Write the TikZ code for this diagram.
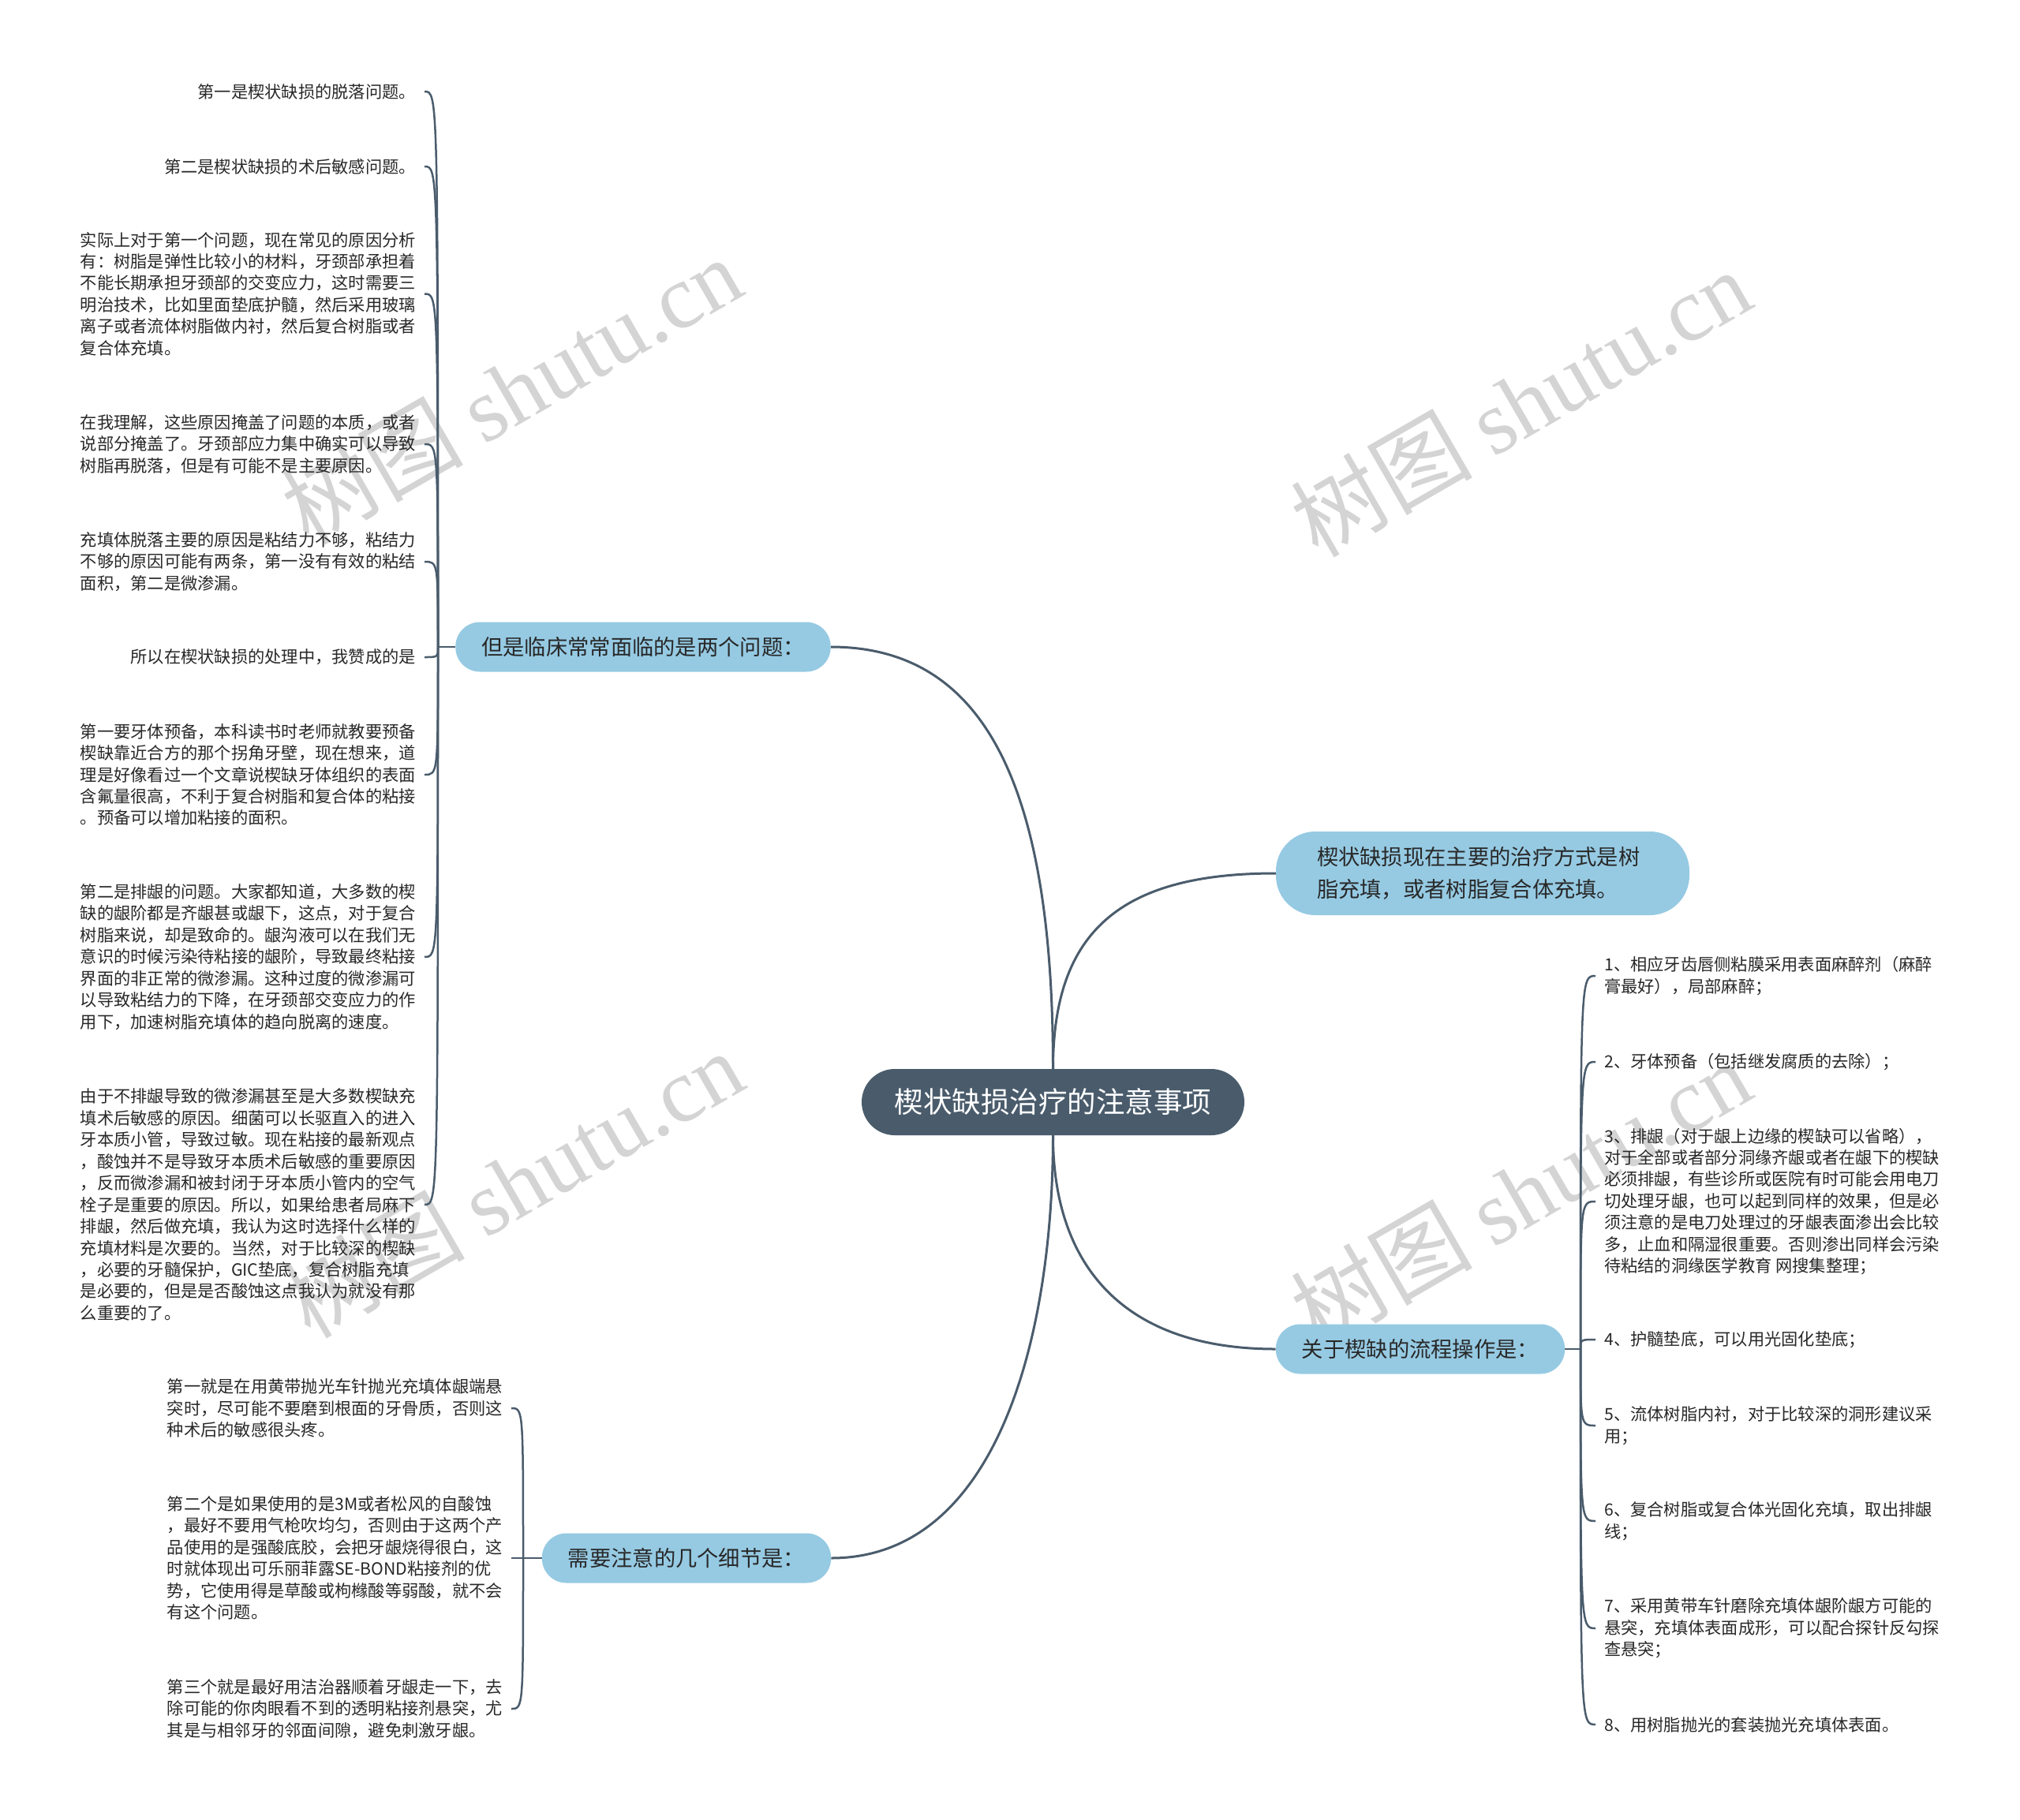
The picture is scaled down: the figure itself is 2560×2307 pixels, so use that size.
\documentclass[tikz,border=0pt]{standalone}
\usepackage{fontspec}
\setmainfont{Noto Sans CJK SC}
\newfontfamily\wmserif{Liberation Serif}
\usetikzlibrary{calc}
\definecolor{linec}{RGB}{74,92,108}
\definecolor{centerc}{RGB}{74,92,108}
\definecolor{branchc}{RGB}{150,202,227}
\definecolor{textc}{RGB}{40,40,40}
\definecolor{wmc}{RGB}{212,212,212}
\pgfdeclarelayer{bg}
\pgfsetlayers{bg,main}
\begin{document}
\begin{tikzpicture}[x=1pt,y=-1pt,
  centernode/.style={rounded corners=42pt, fill=centerc, text=white, font=\fontsize{36.5}{44}\selectfont, minimum width=485pt, minimum height=84pt, inner sep=0pt},
  branchnode/.style={rounded corners=31pt, fill=branchc, text=textc, font=\fontsize{27.3}{41}\selectfont, minimum height=63pt, inner xsep=33pt, inner ysep=0pt},
  leafL/.style={anchor=east, align=left, text=textc, font=\fontsize{21.25}{27.45}\selectfont, inner xsep=11pt, inner ysep=0pt},
  leafR/.style={anchor=west, align=left, text=textc, font=\fontsize{21.25}{27.45}\selectfont, inner xsep=11pt, inner ysep=0pt},
  link/.style={draw=linec, line width=3pt},
  leaflink/.style={draw=linec, line width=2.5pt},
  wm/.style={text=wmc, font=\fontsize{115}{115}\selectfont, rotate=30, inner sep=0pt}
]
\useasboundingbox (0,0) rectangle (2560,2307);

% center and branches
\node[centernode] (c) at (1334.5,1397) {楔状缺损治疗的注意事项};
\node[branchnode] (b1) at (815,820) {但是临床常常面临的是两个问题：};
\node[branchnode, rounded corners=50pt, align=left, text width=420pt, inner xsep=52pt, minimum height=106pt] (b2) at (1879,1107) {楔状缺损现在主要的治疗方式是树\\脂充填，或者树脂复合体充填。};
\node[branchnode] (b3) at (1800,1710) {关于楔缺的流程操作是：};
\node[branchnode] (b4) at (870,1975) {需要注意的几个细节是：};

% junctions
\coordinate (J1) at (555,820);
\coordinate (J3) at (2003,1710);
\coordinate (J4) at (663,1975);

% left leaves of b1
\node[leafL] (L1) at (538,116) {第一是楔状缺损的脱落问题。};
\node[leafL] (L2) at (538,211) {第二是楔状缺损的术后敏感问题。};
\node[leafL] (L3) at (538,372.5) {实际上对于第一个问题，现在常见的原因分析\\有：树脂是弹性比较小的材料，牙颈部承担着\\不能长期承担牙颈部的交变应力，这时需要三\\明治技术，比如里面垫底护髓，然后采用玻璃\\离子或者流体树脂做内衬，然后复合树脂或者\\复合体充填。};
\node[leafL] (L4) at (538,563) {在我理解，这些原因掩盖了问题的本质，或者\\说部分掩盖了。牙颈部应力集中确实可以导致\\树脂再脱落，但是有可能不是主要原因。};
\node[leafL] (L5) at (538,712) {充填体脱落主要的原因是粘结力不够，粘结力\\不够的原因可能有两条，第一没有有效的粘结\\面积，第二是微渗漏。};
\node[leafL] (L6) at (538,833) {所以在楔状缺损的处理中，我赞成的是};
\node[leafL] (L7) at (538,982) {第一要牙体预备，本科读书时老师就教要预备\\楔缺靠近合方的那个拐角牙壁，现在想来，道\\理是好像看过一个文章说楔缺牙体组织的表面\\含氟量很高，不利于复合树脂和复合体的粘接\\。预备可以增加粘接的面积。};
\node[leafL] (L8) at (538,1213) {第二是排龈的问题。大家都知道，大多数的楔\\缺的龈阶都是齐龈甚或龈下，这点，对于复合\\树脂来说，却是致命的。龈沟液可以在我们无\\意识的时候污染待粘接的龈阶，导致最终粘接\\界面的非正常的微渗漏。这种过度的微渗漏可\\以导致粘结力的下降，在牙颈部交变应力的作\\用下，加速树脂充填体的趋向脱离的速度。};
\node[leafL] (L9) at (538,1527) {由于不排龈导致的微渗漏甚至是大多数楔缺充\\填术后敏感的原因。细菌可以长驱直入的进入\\牙本质小管，导致过敏。现在粘接的最新观点\\，酸蚀并不是导致牙本质术后敏感的重要原因\\，反而微渗漏和被封闭于牙本质小管内的空气\\栓子是重要的原因。所以，如果给患者局麻下\\排龈，然后做充填，我认为这时选择什么样的\\充填材料是次要的。当然，对于比较深的楔缺\\，必要的牙髓保护，GIC垫底，复合树脂充填\\是必要的，但是是否酸蚀这点我认为就没有那\\么重要的了。};

% leaves of b4
\node[leafL] (M1) at (648,1785) {第一就是在用黄带抛光车针抛光充填体龈端悬\\突时，尽可能不要磨到根面的牙骨质，否则这\\种术后的敏感很头疼。};
\node[leafL] (M2) at (648,1975) {第二个是如果使用的是3M或者松风的自酸蚀\\，最好不要用气枪吹均匀，否则由于这两个产\\品使用的是强酸底胶，会把牙龈烧得很白，这\\时就体现出可乐丽菲露SE-BOND粘接剂的优\\势，它使用得是草酸或枸橼酸等弱酸，就不会\\有这个问题。};
\node[leafL] (M3) at (648,2166) {第三个就是最好用洁治器顺着牙龈走一下，去\\除可能的你肉眼看不到的透明粘接剂悬突，尤\\其是与相邻牙的邻面间隙，避免刺激牙龈。};

% leaves of b3
\node[leafR] (R1) at (2022,1237) {1、相应牙齿唇侧粘膜采用表面麻醉剂（麻醉\\膏最好），局部麻醉；};
\node[leafR] (R2) at (2022,1346) {2、牙体预备（包括继发腐质的去除）；};
\node[leafR] (R3) at (2022,1523) {3、排龈（对于龈上边缘的楔缺可以省略），\\对于全部或者部分洞缘齐龈或者在龈下的楔缺\\必须排龈，有些诊所或医院有时可能会用电刀\\切处理牙龈，也可以起到同样的效果，但是必\\须注意的是电刀处理过的牙龈表面渗出会比较\\多，止血和隔湿很重要。否则渗出同样会污染\\待粘结的洞缘医学教育 网搜集整理；};
\node[leafR] (R4) at (2022,1698) {4、护髓垫底，可以用光固化垫底；};
\node[leafR] (R5) at (2022,1807) {5、流体树脂内衬，对于比较深的洞形建议采\\用；};
\node[leafR] (R6) at (2022,1928) {6、复合树脂或复合体光固化充填，取出排龈\\线；};
\node[leafR] (R7) at (2022,2064) {7、采用黄带车针磨除充填体龈阶龈方可能的\\悬突，充填体表面成形，可以配合探针反勾探\\查悬突；};
\node[leafR] (R8) at (2022,2186) {8、用树脂抛光的套装抛光充填体表面。};

\begin{pgfonlayer}{bg}
\fill[white] (0,0) rectangle (2560,2307);
% watermarks
\node[wm] (w1) at (648,494) {树图 {\wmserif shutu.cn}};
\node[wm] (w2) at (1927,510) {树图 {\wmserif shutu.cn}};
\node[wm] (w3) at (650,1500) {树图 {\wmserif shutu.cn}};
\node[wm] (w4) at (1927,1512) {树图 {\wmserif shutu.cn}};

% center to branches
\draw[link] (c.north) .. controls +(0,-355) and +(197,0) .. (b1.east);
\draw[link] (c.north) .. controls +(0,-175) and +(-196,0) .. (b2.west);
\draw[link] (c.south) .. controls +(0,161) and +(-197,0) .. (b3.west);
\draw[link] (c.south) .. controls +(0,261) and +(208,0) .. (b4.east);

% stubs
\draw[leaflink] (b1.west) -- (J1);
\draw[leaflink] (b3.east) -- (J3);
\draw[leaflink] (b4.west) -- (J4);

% leaf links
\foreach \n in {L1,L2,L3,L4,L5,L6,L7,L8,L9}
  \draw[leaflink] (J1) .. controls (J1 |- \n.east) .. (\n.east);
\foreach \n in {M1,M2,M3}
  \draw[leaflink] (J4) .. controls (J4 |- \n.east) .. (\n.east);
\foreach \n in {R1,R2,R3,R4,R5,R6,R7,R8}
  \draw[leaflink] (J3) .. controls (J3 |- \n.west) .. (\n.west);
\end{pgfonlayer}
\end{tikzpicture}
\end{document}
